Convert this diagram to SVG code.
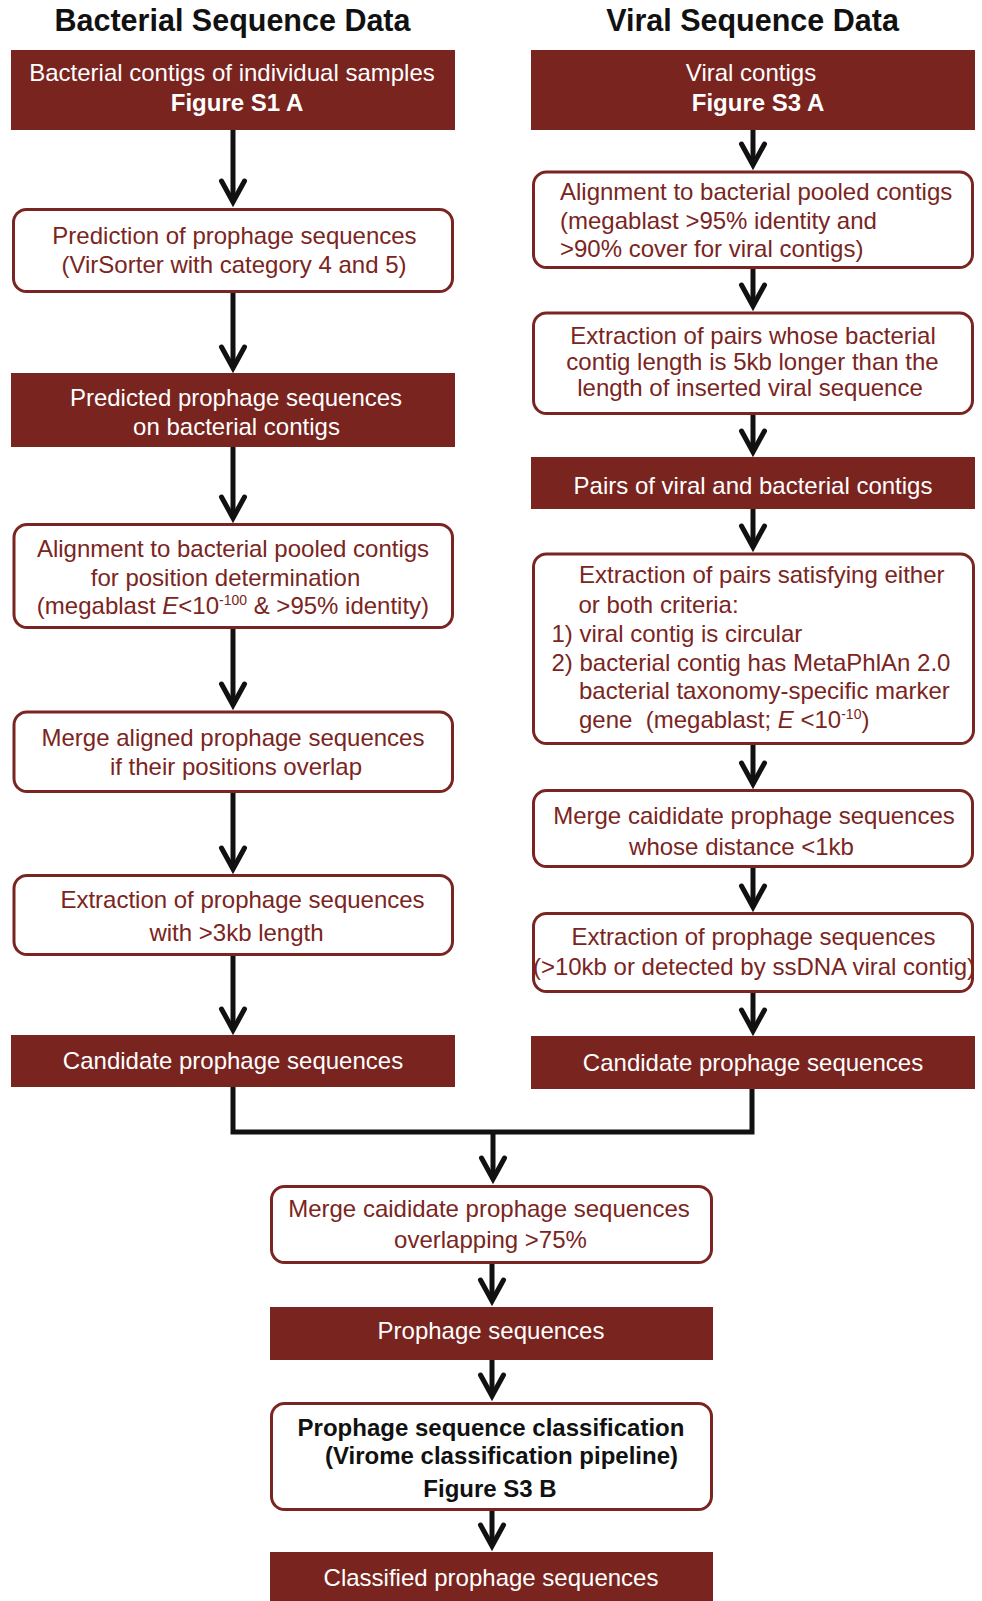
<svg xmlns="http://www.w3.org/2000/svg" width="982" height="1601" viewBox="0 0 982 1601">
<style>
text{font-family:"Liberation Sans",Arial,sans-serif;font-size:24px}
.hd{font-size:30.5px;font-weight:bold;fill:#111;text-anchor:middle}
.fill{fill:#79241f}
.box{fill:#fff;stroke:#7a2521;stroke-width:3}
.w{fill:#fff;text-anchor:middle}
.r{fill:#7a2521;text-anchor:middle}
.rs{fill:#7a2521;text-anchor:start}
.b{font-weight:bold}
.k{fill:#111;font-weight:bold;text-anchor:middle}
.sup{font-size:14px}
.ln{fill:none;stroke:#111;stroke-width:5}
</style>
<defs>
<marker id="chev" markerUnits="userSpaceOnUse" viewBox="-30 -15 40 30" markerWidth="40" markerHeight="30" refX="0" refY="0" orient="auto" overflow="visible">
<path d="M-21,-11.5 L0,0 L-21,11.5" fill="none" stroke="#111" stroke-width="5" stroke-linecap="round" stroke-linejoin="miter" stroke-miterlimit="10"/>
</marker>
</defs>

<text class="hd" x="232.5" y="31">Bacterial Sequence Data</text>
<text class="hd" x="752.5" y="31">Viral Sequence Data</text>

<g id="connectors">
<path class="ln" marker-end="url(#chev)" d="M233,130 V202"/>
<path class="ln" marker-end="url(#chev)" d="M233,293 V368"/>
<path class="ln" marker-end="url(#chev)" d="M233,447 V518"/>
<path class="ln" marker-end="url(#chev)" d="M233,629 V705"/>
<path class="ln" marker-end="url(#chev)" d="M233,793 V869"/>
<path class="ln" marker-end="url(#chev)" d="M233,956 V1030"/>
<path class="ln" marker-end="url(#chev)" d="M753,130 V165"/>
<path class="ln" marker-end="url(#chev)" d="M753,269 V306"/>
<path class="ln" marker-end="url(#chev)" d="M753,415 V452"/>
<path class="ln" marker-end="url(#chev)" d="M753,509 V547"/>
<path class="ln" marker-end="url(#chev)" d="M753,745 V784"/>
<path class="ln" marker-end="url(#chev)" d="M753,868 V907"/>
<path class="ln" marker-end="url(#chev)" d="M753,993 V1031"/>
<path class="ln" d="M233,1087 V1132 H752 V1089"/>
<path class="ln" marker-end="url(#chev)" d="M493,1132 V1179"/>
<path class="ln" marker-end="url(#chev)" d="M492,1264 V1301"/>
<path class="ln" marker-end="url(#chev)" d="M492,1360 V1396"/>
<path class="ln" marker-end="url(#chev)" d="M492,1511 V1546"/>
</g>

<g id="bact-contigs">
<rect class="fill" x="11" y="50" width="444" height="80"/>
<text class="w" x="232" y="81">Bacterial contigs of individual samples</text>
<text class="w b" x="237" y="110.5">Figure S1 A</text>
</g>
<g id="prediction">
<rect class="box" x="13.5" y="209.5" width="439" height="82" rx="13"/>
<text class="r" x="234.5" y="244">Prediction of prophage sequences</text>
<text class="r" x="234" y="273">(VirSorter with category 4 and 5)</text>
</g>
<g id="predicted">
<rect class="fill" x="11" y="373" width="444" height="74"/>
<text class="w" x="236" y="405.5">Predicted prophage sequences</text>
<text class="w" x="236.5" y="435">on bacterial contigs</text>
</g>
<g id="alignment-left">
<rect class="box" x="14" y="524.5" width="438.5" height="103" rx="13"/>
<text class="r" x="233" y="557">Alignment to bacterial pooled contigs</text>
<text class="r" x="225.5" y="585.5">for position determination</text>
<text class="r" x="233" y="614">(megablast <tspan font-style="italic">E</tspan>&lt;10<tspan class="sup" dy="-9">-100</tspan><tspan dy="9"> &amp; &gt;95% identity)</tspan></text>
</g>
<g id="merge-left">
<rect class="box" x="14" y="712" width="438.5" height="79.5" rx="13"/>
<text class="r" x="233" y="745.5">Merge aligned prophage sequences</text>
<text class="r" x="236" y="774.5">if their positions overlap</text>
</g>
<g id="extract-left">
<rect class="box" x="14" y="875.5" width="438.5" height="79" rx="13"/>
<text class="r" x="242.5" y="908">Extraction of prophage sequences</text>
<text class="r" x="236.5" y="940.5">with &gt;3kb length</text>
</g>
<g id="candidate-left">
<rect class="fill" x="11" y="1035" width="444" height="52"/>
<text class="w" x="233" y="1069">Candidate prophage sequences</text>
</g>

<g id="viral-contigs">
<rect class="fill" x="531" y="50" width="444" height="80"/>
<text class="w" x="751" y="81">Viral contigs</text>
<text class="w b" x="758" y="110.5">Figure S3 A</text>
</g>
<g id="alignment-right">
<rect class="box" x="533.5" y="172" width="439" height="95.5" rx="13"/>
<text class="rs" x="560" y="200">Alignment to bacterial pooled contigs</text>
<text class="rs" x="560" y="228.5">(megablast &gt;95% identity and</text>
<text class="rs" x="560" y="257">&gt;90% cover for viral contigs)</text>
</g>
<g id="extract-pairs">
<rect class="box" x="533.5" y="313" width="439" height="100.5" rx="13"/>
<text class="r" x="753" y="344">Extraction of pairs whose bacterial</text>
<text class="r" x="752.5" y="370">contig length is 5kb longer than the</text>
<text class="r" x="750" y="396">length of inserted viral sequence</text>
</g>
<g id="pairs">
<rect class="fill" x="531" y="457" width="444" height="52"/>
<text class="w" x="753" y="494">Pairs of viral and bacterial contigs</text>
</g>
<g id="criteria">
<rect class="box" x="533.5" y="554" width="440" height="189.5" rx="13"/>
<text class="rs" x="579" y="583">Extraction of pairs satisfying either</text>
<text class="rs" x="578.5" y="612.5">or both criteria:</text>
<text class="rs" x="551.5" y="641.5">1) viral contig is circular</text>
<text class="rs" x="551.5" y="670.5">2) bacterial contig has MetaPhlAn 2.0</text>
<text class="rs" x="579" y="699">bacterial taxonomy-specific marker</text>
<text class="rs" x="579" y="727.5" xml:space="preserve">gene  (megablast; <tspan font-style="italic">E</tspan> &lt;10<tspan class="sup" dy="-9">-10</tspan><tspan dy="9">)</tspan></text>
</g>
<g id="merge-right">
<rect class="box" x="533.5" y="790.5" width="439" height="76" rx="13"/>
<text class="r" x="754" y="823.5">Merge caididate prophage sequences</text>
<text class="r" x="741.5" y="855">whose distance &lt;1kb</text>
</g>
<g id="extract-right">
<rect class="box" x="533.5" y="913.5" width="439" height="78" rx="13"/>
<text class="r" x="753.5" y="944.5">Extraction of prophage sequences</text>
<text class="r" x="754" y="975">(&gt;10kb or detected by ssDNA viral contig)</text>
</g>
<g id="candidate-right">
<rect class="fill" x="531" y="1036" width="444" height="53"/>
<text class="w" x="753" y="1070.5">Candidate prophage sequences</text>
</g>

<g id="merge-overlap">
<rect class="box" x="271.5" y="1186.5" width="440" height="76" rx="13"/>
<text class="r" x="489" y="1217">Merge caididate prophage sequences</text>
<text class="r" x="490.5" y="1247.5">overlapping &gt;75%</text>
</g>
<g id="prophage">
<rect class="fill" x="270" y="1307" width="443" height="53"/>
<text class="w" x="491" y="1339">Prophage sequences</text>
</g>
<g id="classification">
<rect class="box" x="271.5" y="1403.5" width="440" height="106" rx="13"/>
<text class="k" x="491" y="1435.5">Prophage sequence classification</text>
<text class="k" x="501.5" y="1464">(Virome classification pipeline)</text>
<text class="k" x="490" y="1497">Figure S3 B</text>
</g>
<g id="classified">
<rect class="fill" x="270" y="1552" width="443" height="52"/>
<text class="w" x="491" y="1585.5">Classified prophage sequences</text>
</g>
</svg>
